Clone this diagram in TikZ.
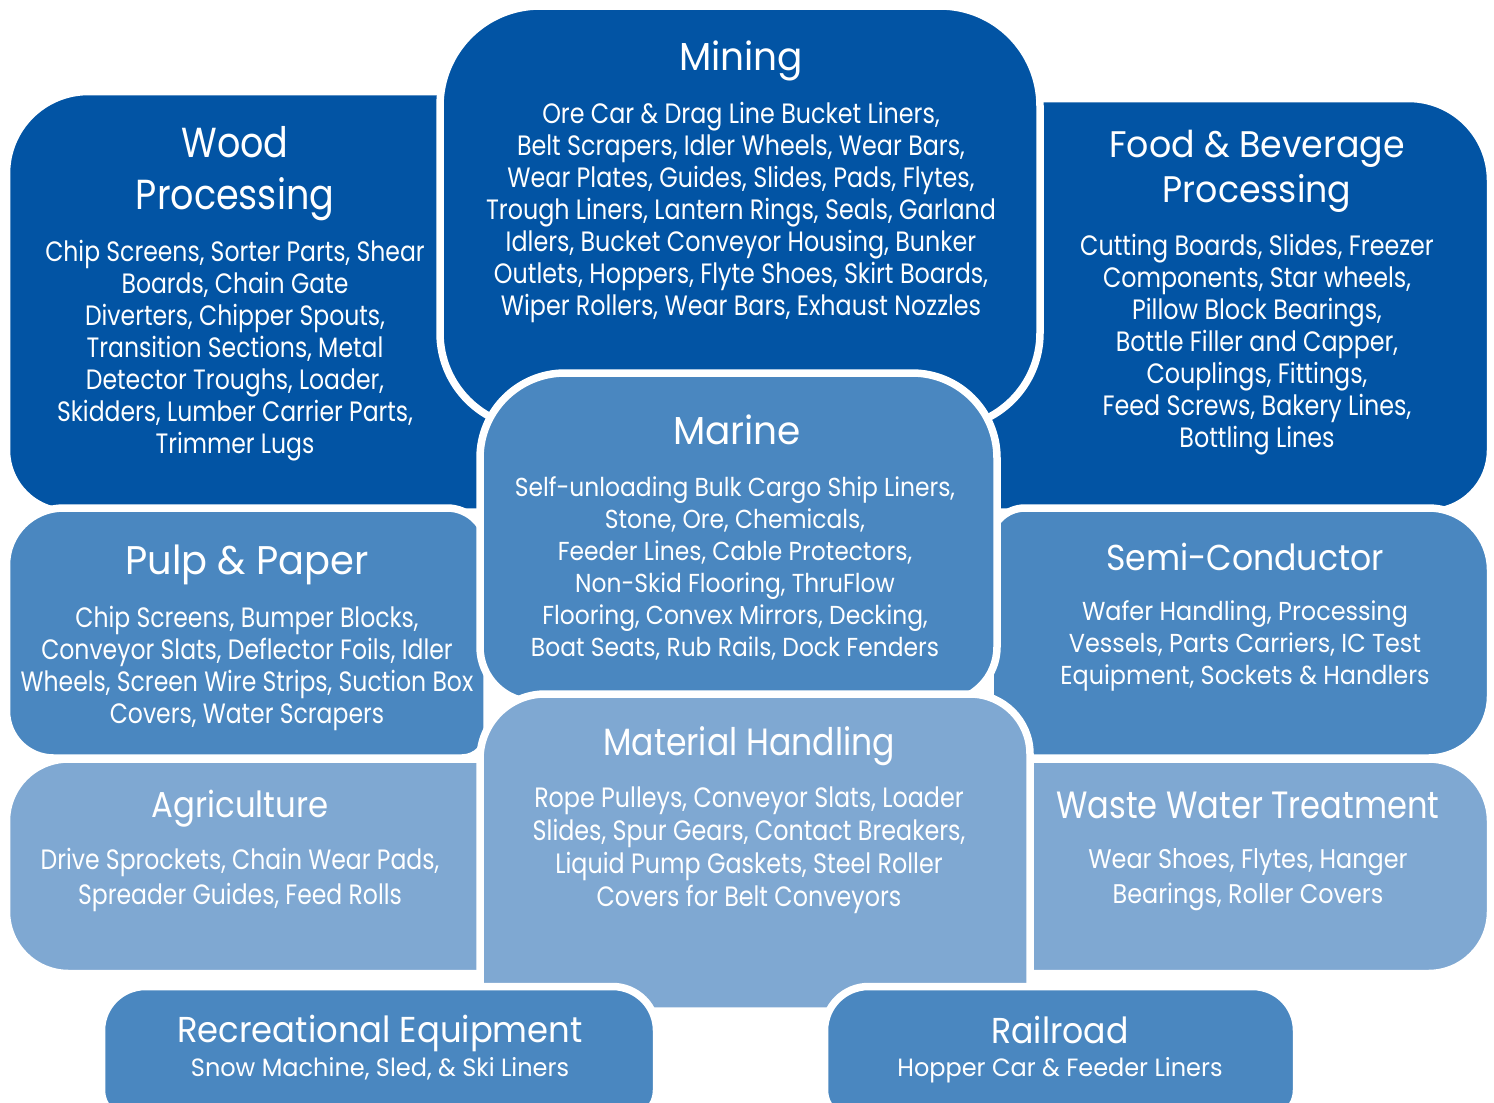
\documentclass[tikz,border=0pt]{standalone}
\usepackage{fontspec}
\setmainfont{Poppins}[FakeStretch=0.8]
\newcommand\pf[3]{\fontspec{Poppins}[FakeStretch=#1]\fontsize{#2}{#3}\selectfont}
\definecolor{dkblue}{HTML}{0254A4}
\definecolor{mdblue}{HTML}{4A87C0}
\definecolor{ltblue}{HTML}{7FA8D2}
\tikzset{
  rbox/.style n args={8}{insert path={
    (#1+#5,#2) -- (#3-#6,#2) .. controls (#3-0.4477*#6,#2) and (#3,#2+0.4477*#6) .. (#3,#2+#6)
    -- (#3,#4-#7) .. controls (#3,#4-0.4477*#7) and (#3-0.4477*#7,#4) .. (#3-#7,#4)
    -- (#1+#8,#4) .. controls (#1+0.4477*#8,#4) and (#1,#4-0.4477*#8) .. (#1,#4-#8)
    -- (#1,#2+#5) .. controls (#1,#2+0.4477*#5) and (#1+0.4477*#5,#2) .. cycle}},
  panel/.style={draw=white, line width=3.75pt, line join=round},
  ttl/.style={text=white, align=center, inner sep=0pt},
  bdy/.style={text=white, align=center, inner sep=0pt}
}
\begin{document}
\begin{tikzpicture}[x=0.5pt,y=-0.5pt]
\useasboundingbox (0,0) rectangle (1494,1103);
\clip (0,0) rectangle (1494,1103);
\fill[white] (0,0) rectangle (1494,1103);

% panels, back to front
\path[panel, fill=dkblue, rbox={6.5}{91.5}{520}{512}{82}{10}{20}{62}];
\path[panel, fill=dkblue, rbox={960}{98.5}{1490.5}{512}{10}{82}{62}{20}];
\path[panel, fill=dkblue, rbox={440}{6}{1040}{428}{100}{100}{95}{95}];
\path[panel, fill=mdblue, rbox={6.5}{508}{487}{758}{57}{40}{25}{47}];
\path[panel, fill=mdblue, rbox={990}{508}{1490.5}{758}{35}{62}{62}{10}];
\path[panel, fill=mdblue, rbox={480}{373}{997}{702}{85}{85}{55}{55}];
\path[panel, fill=ltblue, rbox={6.5}{759}{490}{973.5}{62}{10}{10}{62}];
\path[panel, fill=ltblue, rbox={1020}{759}{1490.5}{973.5}{10}{62}{62}{10}];
\path[panel, fill=ltblue, rbox={480}{694}{1030}{1011}{65}{60}{15}{15}];
\path[panel, fill=mdblue, rbox={101.5}{986.5}{656.5}{1120}{44}{44}{30}{30}];
\path[panel, fill=mdblue, rbox={824.5}{986.5}{1296.5}{1120}{44}{44}{30}{30}];

% texts
\node[ttl, font=\pf{0.87}{21}{26}] (woodT) at (235,174) {Wood\\Processing};
\node[bdy, font=\pf{0.84}{14}{16}] (woodB) at (235,351) {Chip Screens, Sorter Parts, Shear\\Boards, Chain Gate\\Diverters, Chipper Spouts,\\Transition Sections, Metal\\Detector Troughs, Loader,\\Skidders, Lumber Carrier Parts,\\Trimmer Lugs};

\node[ttl, font=\pf{0.96}{19.5}{24}] (minT) at (741,61) {Mining};
\node[bdy, font=\pf{0.85}{14}{16}] (minB) at (741,212) {Ore Car \& Drag Line Bucket Liners,\\Belt Scrapers, Idler Wheels, Wear Bars,\\Wear Plates, Guides, Slides, Pads, Flytes,\\Trough Liners, Lantern Rings, Seals, Garland\\Idlers, Bucket Conveyor Housing, Bunker\\Outlets, Hoppers, Flyte Shoes, Skirt Boards,\\Wiper Rollers, Wear Bars, Exhaust Nozzles};

\node[ttl, font=\pf{0.94}{18.5}{22.5}] (foodT) at (1257,171.5) {Food \& Beverage\\Processing};
\node[bdy, font=\pf{0.85}{14}{16}] (foodB) at (1257,345) {Cutting Boards, Slides, Freezer\\Components, Star wheels,\\Pillow Block Bearings,\\Bottle Filler and Capper,\\Couplings, Fittings,\\Feed Screws, Bakery Lines,\\Bottling Lines};

\node[ttl, font=\pf{0.96}{19.5}{24}] (marT) at (737,430) {Marine};
\node[bdy, font=\pf{0.9}{13}{16}] (marB) at (735,568) {Self-unloading Bulk Cargo Ship Liners,\\Stone, Ore, Chemicals,\\Feeder Lines, Cable Protectors,\\Non-Skid Flooring, ThruFlow\\Flooring, Convex Mirrors, Decking,\\Boat Seats, Rub Rails, Dock Fenders};

\node[ttl, font=\pf{0.96}{20}{24}] (pulpT) at (247,565) {Pulp \& Paper};
\node[bdy, font=\pf{0.84}{14}{16}] (pulpB) at (247,668) {Chip Screens, Bumper Blocks,\\Conveyor Slats, Deflector Foils, Idler\\Wheels, Screen Wire Strips, Suction Box\\Covers, Water Scrapers};

\node[ttl, font=\pf{0.92}{18}{22}] (semiT) at (1245,557) {Semi-Conductor};
\node[bdy, font=\pf{0.92}{13}{16}] (semiB) at (1245,646) {Wafer Handling, Processing\\Vessels, Parts Carriers, IC Test\\Equipment, Sockets \& Handlers};

\node[ttl, font=\pf{0.9}{18}{22}] (agrT) at (240,809) {Agriculture};
\node[bdy, font=\pf{0.84}{14}{17.5}] (agrB) at (240,879.5) {Drive Sprockets, Chain Wear Pads,\\Spreader Guides, Feed Rolls};

\node[ttl, font=\pf{0.87}{19}{23}] (mhT) at (749,746) {Material Handling};
\node[bdy, font=\pf{0.85}{14}{16.5}] (mhB) at (749,850) {Rope Pulleys, Conveyor Slats, Loader\\Slides, Spur Gears, Contact Breakers,\\Liquid Pump Gaskets, Steel Roller\\Covers for Belt Conveyors};

\node[ttl, font=\pf{0.845}{19}{23}] (wwT) at (1248,805) {Waste Water Treatment};
\node[bdy, font=\pf{0.886}{13.5}{17.5}] (wwB) at (1248,879.5) {Wear Shoes, Flytes, Hanger\\Bearings, Roller Covers};

\node[ttl, font=\pf{0.94}{18}{22}] (recT) at (380,1033) {Recreational Equipment};
\node[bdy, font=\pf{0.96}{12.5}{15}] (recB) at (380,1069) {Snow Machine, Sled, \& Ski Liners};

\node[ttl, font=\pf{0.92}{18}{22}] (railT) at (1060,1030) {Railroad};
\node[bdy, font=\pf{0.96}{12.5}{15}] (railB) at (1060,1070) {Hopper Car \& Feeder Liners};
\end{tikzpicture}
\end{document}
